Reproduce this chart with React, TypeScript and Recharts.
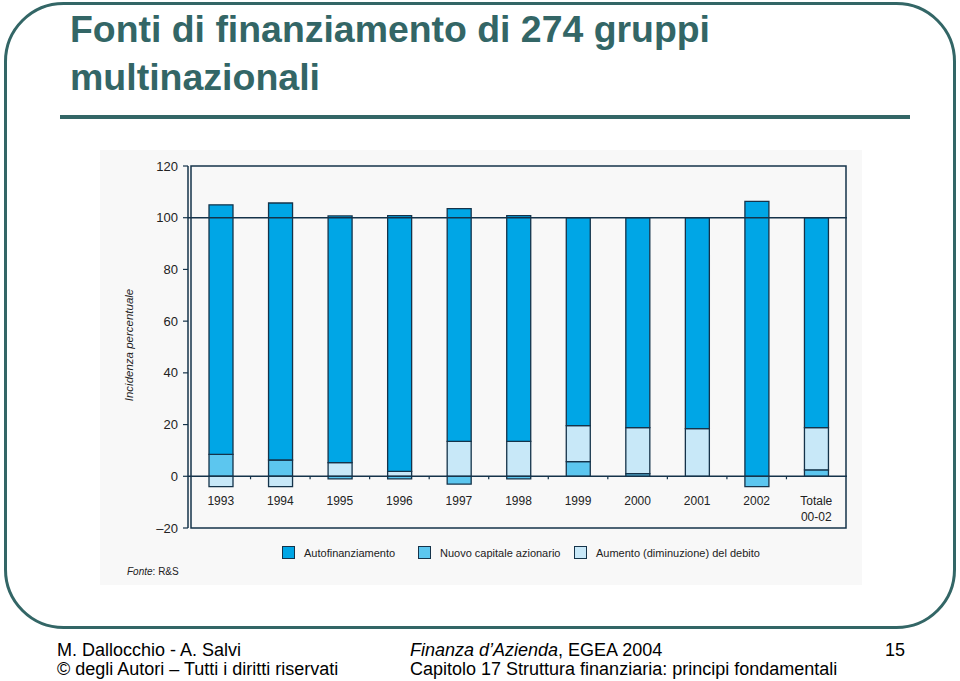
import React from 'react';
import { BarChart, Bar, XAxis, YAxis, ReferenceLine, ReferenceArea, Legend } from 'recharts';

// ---- data ----
const categories = ['1993', '1994', '1995', '1996', '1997', '1998', '1999', '2000', '2001', '2002', 'Totale 00-02'];
const nuovoCapitale = [8.5, 6.3, -1, -1, -3, -1, 5.7, 1, 0, -4, 2.5];
const debito = [-4, -4, 5.3, 1.9, 13.5, 13.5, 13.9, 17.8, 18.4, 0, 16.3];
const autofinanziamento = [96.5, 99.4, 95.4, 98.9, 90, 87.3, 80.4, 81.2, 81.6, 106.3, 81.2];
const yTicks = [-20, 0, 20, 40, 60, 80, 100, 120];
const seriesNames = ['Autofinanziamento', 'Nuovo capitale azionario', 'Aumento (diminuzione) del debito'];

const data = categories.map((c, i) => ({
  name: c,
  cap: nuovoCapitale[i],
  deb: debito[i],
  auto: autofinanziamento[i],
}));

const C_AUTO = '#00a6e6';
const C_CAP = '#5cc6ef';
const C_DEB = '#c8e8f8';
const STROKE = '#15334a';
const TEXT = '#222';

const CHART_W = 762;
const CHART_H = 435;
const MARGIN = { top: 16, right: 15, bottom: 37, left: 0 };
const X_AXIS_H = 20;
const PLOT_H = CHART_H - MARGIN.top - MARGIN.bottom - X_AXIS_H;
const Y_MIN = -20;
const Y_MAX = 120;
const ZERO_FROM_BOTTOM = (PLOT_H * (0 - Y_MIN)) / (Y_MAX - Y_MIN);

const XTick = (props: any) => {
  const { x, y, payload, index } = props;
  const zeroY = y - ZERO_FROM_BOTTOM;
  const half = payload && typeof payload.offset === 'number' ? payload.offset : 29.75;
  const lines = String(payload.value).split(' ');
  return (
    <g>
      {index < categories.length - 1 && (
        <line x1={x + half} x2={x + half} y1={zeroY} y2={zeroY + 3} stroke={STROKE} strokeWidth={1.2} />
      )}
      <text x={x} y={zeroY + 29} textAnchor="middle" fontSize={12} fill={TEXT} fontFamily='"Liberation Sans", Arial, sans-serif'>
        {lines.map((l, i) => (
          <tspan key={i} x={x} dy={i === 0 ? 0 : 16}>
            {l}
          </tspan>
        ))}
      </text>
    </g>
  );
};

const YLabel = (props: any) => {
  const vb = props.viewBox || { x: 0, y: 0, width: 0, height: 0 };
  const cx = vb.x + 33;
  const cy = vb.y + vb.height / 2 - 2;
  return (
    <text
      x={cx}
      y={cy}
      transform={`rotate(-90 ${cx} ${cy})`}
      textAnchor="middle"
      fontSize={11.5}
      fontStyle="italic"
      fill={TEXT}
      fontFamily='"Liberation Sans", Arial, sans-serif'
    >
      Incidenza percentuale
    </text>
  );
};

const legendColors = [C_AUTO, C_CAP, C_DEB];
const legendOffsets = [0, 136, 292];

const LegendContent = () => (
  <div style={{ position: 'relative', height: 12, fontFamily: '"Liberation Sans", Arial, sans-serif' }}>
    {seriesNames.map((n, i) => (
      <div
        key={n}
        style={{ position: 'absolute', left: legendOffsets[i], top: 0, display: 'flex', alignItems: 'center', whiteSpace: 'nowrap' }}
      >
        <span
          style={{
            display: 'inline-block',
            width: 11,
            height: 11,
            background: legendColors[i],
            border: `1px solid ${STROKE}`,
            marginRight: 9,
          }}
        />
        <span style={{ fontSize: 11, color: TEXT, lineHeight: '12px' }}>{n}</span>
      </div>
    ))}
  </div>
);

const fmtY = (v: number) => (v < 0 ? `–${Math.abs(v)}` : String(v));

export default function App() {
  const font = '"Liberation Sans", Arial, sans-serif';
  const teal = '#336666';
  return (
    <div
      style={{
        position: 'absolute',
        left: 0,
        top: 0,
        width: 960,
        height: 681,
        background: '#fff',
        overflow: 'hidden',
        fontFamily: font,
      }}
    >
      <svg width={960} height={681} style={{ position: 'absolute', left: 0, top: 0 }}>
        <rect x={5.5} y={3.5} width={949} height={624} rx={58} ry={58} fill="none" stroke={teal} strokeWidth={3} />
        <text x={70} y={42} fontSize={37} fontWeight="bold" fill={teal} fontFamily={font} textLength={640} lengthAdjust="spacingAndGlyphs">
          Fonti di finanziamento di 274 gruppi
        </text>
        <text x={70} y={90} fontSize={37} fontWeight="bold" fill={teal} fontFamily={font} textLength={250} lengthAdjust="spacingAndGlyphs">
          multinazionali
        </text>
        <rect x={60} y={115} width={850} height={4} fill={teal} />
        <text x={57} y={656} fontSize={18} fill="#000" fontFamily={font}>
          M. Dallocchio - A. Salvi
        </text>
        <text x={57} y={675} fontSize={18} fill="#000" fontFamily={font}>
          © degli Autori – Tutti i diritti riservati
        </text>
        <text x={410} y={656} fontSize={18} fill="#000" fontFamily={font}>
          <tspan fontStyle="italic">Finanza d’Azienda</tspan>
          <tspan>, EGEA 2004</tspan>
        </text>
        <text x={410} y={675} fontSize={18} fill="#000" fontFamily={font}>
          Capitolo 17 Struttura finanziaria: principi fondamentali
        </text>
        <text x={905} y={656} fontSize={18} fill="#000" textAnchor="end" fontFamily={font}>
          15
        </text>
      </svg>
      <div style={{ position: 'absolute', left: 100, top: 150, width: CHART_W, height: CHART_H, background: '#f8f8f8' }}>
        <BarChart width={CHART_W} height={CHART_H} data={data} margin={MARGIN} stackOffset="sign" barSize={24}>
          <ReferenceArea y1={Y_MIN} y2={Y_MAX} fill="none" stroke={STROKE} strokeWidth={1.5} ifOverflow="extendDomain" />
          <ReferenceLine y={100} stroke={STROKE} strokeWidth={1.5} />
          <XAxis
            dataKey="name"
            height={X_AXIS_H}
            axisLine={false}
            tickLine={false}
            tickSize={0}
            tickMargin={0}
            interval={0}
            padding={{ left: 3, right: 1 }}
            tick={<XTick />}
          />
          <YAxis
            width={88}
            domain={[Y_MIN, Y_MAX]}
            ticks={yTicks}
            interval={0}
            allowDataOverflow
            axisLine={{ stroke: STROKE, strokeWidth: 1.5 }}
            tickLine={{ stroke: STROKE, strokeWidth: 1.2 }}
            tickSize={5}
            tickMargin={5}
            tickFormatter={fmtY}
            tick={{ fontSize: 13, fill: TEXT, fontFamily: font }}
            label={<YLabel />}
          />
          <Legend
            layout="horizontal"
            verticalAlign="middle"
            align="center"
            content={<LegendContent />}
            wrapperStyle={{ left: 182, top: 396, width: 560, height: 12 }}
          />
          <Bar dataKey="cap" name={seriesNames[1]} stackId="a" fill={C_CAP} stroke={STROKE} strokeWidth={1.3} isAnimationActive={false} />
          <Bar dataKey="deb" name={seriesNames[2]} stackId="a" fill={C_DEB} stroke={STROKE} strokeWidth={1.3} isAnimationActive={false} />
          <Bar dataKey="auto" name={seriesNames[0]} stackId="a" fill={C_AUTO} stroke={STROKE} strokeWidth={1.3} isAnimationActive={false} />
          <ReferenceLine y={0} stroke={STROKE} strokeWidth={1.5} />
        </BarChart>
        <div style={{ position: 'absolute', left: 27, top: 416, fontSize: 10, color: TEXT, fontFamily: font, whiteSpace: 'nowrap' }}>
          <i>Fonte</i>: R&amp;S
        </div>
      </div>
    </div>
  );
}
